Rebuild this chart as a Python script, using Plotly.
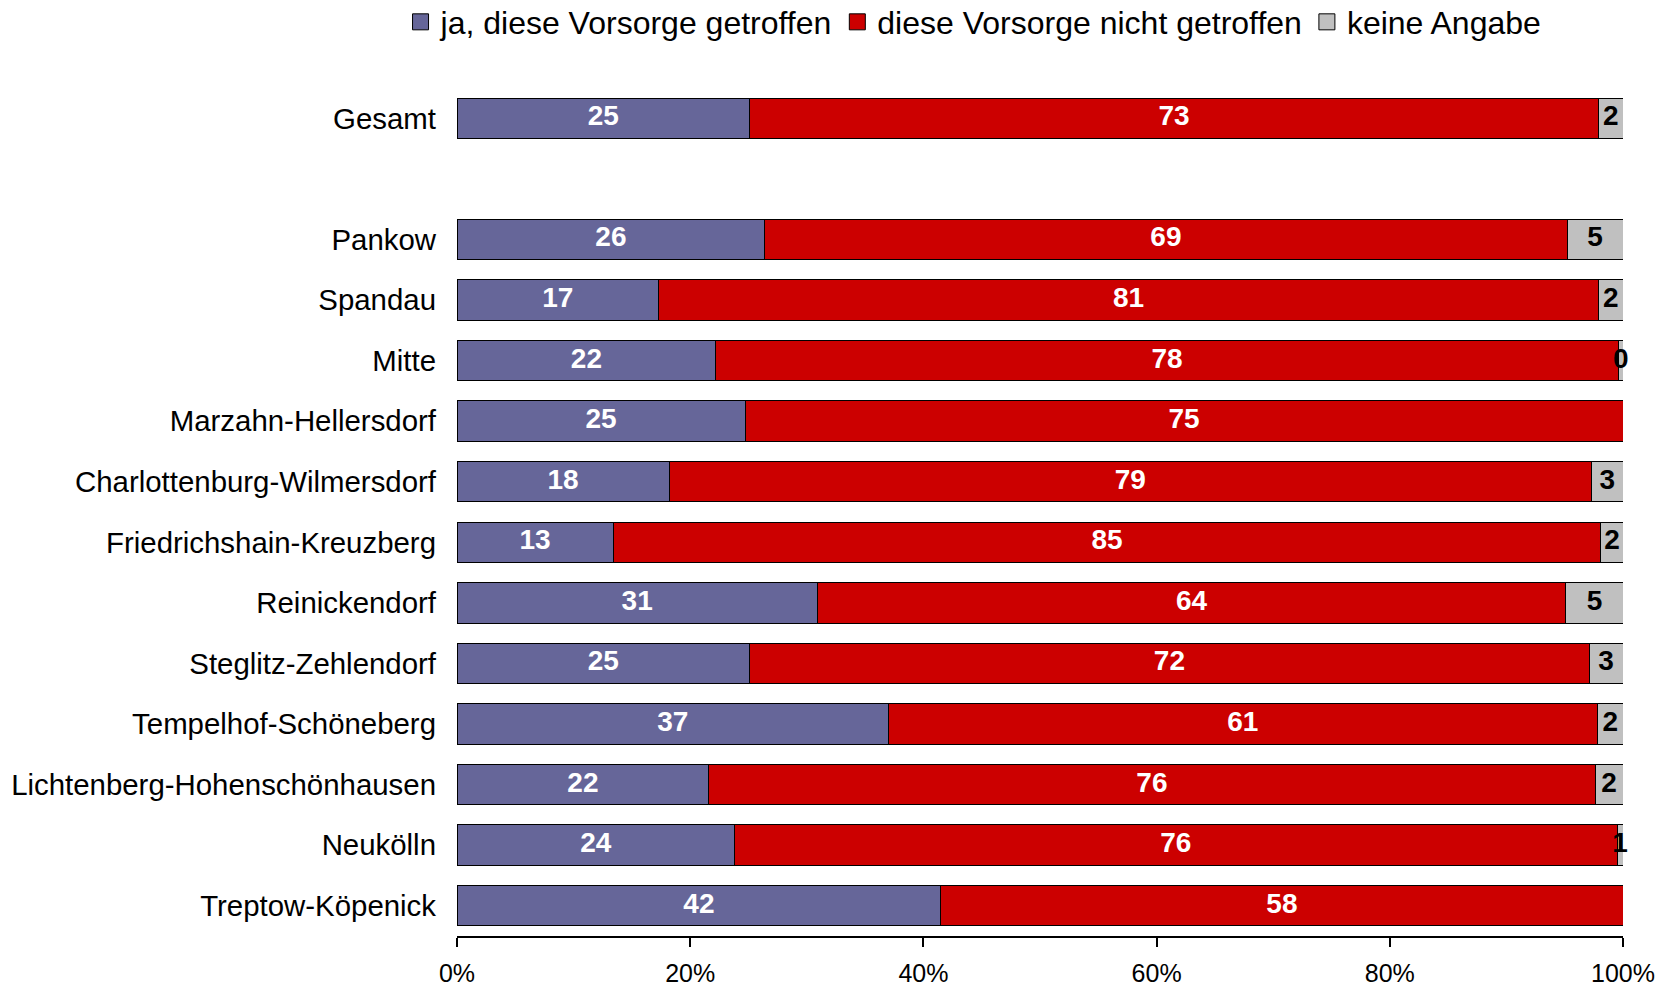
import plotly.graph_objects as go

categories = ["Gesamt", " ", "Pankow", "Spandau", "Mitte", "Marzahn-Hellersdorf",
              "Charlottenburg-Wilmersdorf", "Friedrichshain-Kreuzberg", "Reinickendorf",
              "Steglitz-Zehlendorf", "Tempelhof-Schöneberg", "Lichtenberg-Hohenschönhausen",
              "Neukölln", "Treptow-Köpenick"]

ja_values = [25.1, None, 26.4, 17.3, 22.2, 24.7, 18.2, 13.4, 30.9, 25.1, 37.0, 21.6, 23.8, 41.5]
nicht_values = [72.8, None, 68.8, 80.6, 77.4, 75.3, 79.1, 84.7, 64.2, 72.0, 60.8, 76.0, 75.7, 58.5]
keine_values = [2.1, None, 4.8, 2.1, 0.4, 0.0, 2.7, 1.9, 4.9, 2.9, 2.2, 2.4, 0.5, 0.0]

ja_labels = ["25", "", "26", "17", "22", "25", "18", "13", "31", "25", "37", "22", "24", "42"]
nicht_labels = ["73", "", "69", "81", "78", "75", "79", "85", "64", "72", "61", "76", "76", "58"]
keine_labels = ["2", "", "5", "2", "0", "", "3", "2", "5", "3", "2", "2", "1", ""]

series_names = ["ja, diese Vorsorge getroffen", "diese Vorsorge nicht getroffen", "keine Angabe"]
colors = ["#666699", "#CC0000", "#C0C0C0"]
text_colors = ["white", "white", "black"]

FONT = "Liberation Sans, Arial, sans-serif"
LABEL_SIZE = 28

fig = go.Figure()
all_vals = [ja_values, nicht_values, keine_values]
all_labels = [ja_labels, nicht_labels, keine_labels]
for name, vals, col in zip(series_names, all_vals, colors):
    fig.add_trace(go.Bar(
        y=categories, x=vals, name=name, orientation="h", showlegend=False,
        marker=dict(color=col, line=dict(color="#000000", width=1)),
        textposition="none", hoverinfo="x+y+name",
    ))

# value labels, centred on each segment
for i, (vals, labels, tcol) in enumerate(zip(all_vals, all_labels, text_colors)):
    xs, ys, ts = [], [], []
    for j, cat in enumerate(categories):
        if vals[j] is None or labels[j] == "":
            continue
        start = sum(all_vals[k][j] for k in range(i))
        xs.append(start + vals[j] / 2)
        ys.append(cat)
        ts.append(labels[j])
    fig.add_trace(go.Scatter(
        x=xs, y=ys, text=ts, mode="text", showlegend=False, cliponaxis=False,
        textposition="middle center", hoverinfo="skip",
        textfont=dict(family=FONT, size=LABEL_SIZE, color=tcol, weight="bold"),
    ))

# legend entries
for name, col in zip(series_names, colors):
    fig.add_trace(go.Scatter(
        x=[None], y=[None], mode="markers", name=name,
        marker=dict(symbol="square", size=18, color=col, line=dict(color="black", width=1)),
    ))

fig.update_layout(
    width=1668, height=988,
    paper_bgcolor="white", plot_bgcolor="white",
    margin=dict(l=457, r=45, t=88, b=52, autoexpand=False),
    barmode="stack",
    bargap=0.333,
    font=dict(family=FONT, size=29, color="black"),
    legend=dict(orientation="h", x=0.443, xanchor="center", yref="container",
                y=0.9777, yanchor="middle",
                font=dict(family=FONT, size=32, color="black"),
                traceorder="normal", itemwidth=30, bgcolor="rgba(0,0,0,0)"),
    showlegend=True,
)
fig.update_yaxes(type="category", categoryorder="array", categoryarray=categories,
                 range=[len(categories) - 0.5, -0.5],
                 showline=False, ticks="", showgrid=False, automargin=False,
                 tickfont=dict(family=FONT, size=29.4, color="black"), ticklabelstandoff=20)
fig.update_xaxes(range=[0, 100], tickvals=[0, 20, 40, 60, 80, 100],
                 ticktext=["0%", "20%", "40%", "60%", "80%", "100%"],
                 showline=True, linecolor="black", linewidth=2, ticks="outside",
                 ticklen=9, tickwidth=2, tickcolor="black", showgrid=False, zeroline=False,
                 automargin=False,
                 tickfont=dict(family=FONT, size=25, color="black"), ticklabelstandoff=5)

fig.write_html("out.html", config={"displayModeBar": False},
               post_script="document.body.style.margin='0px';")
